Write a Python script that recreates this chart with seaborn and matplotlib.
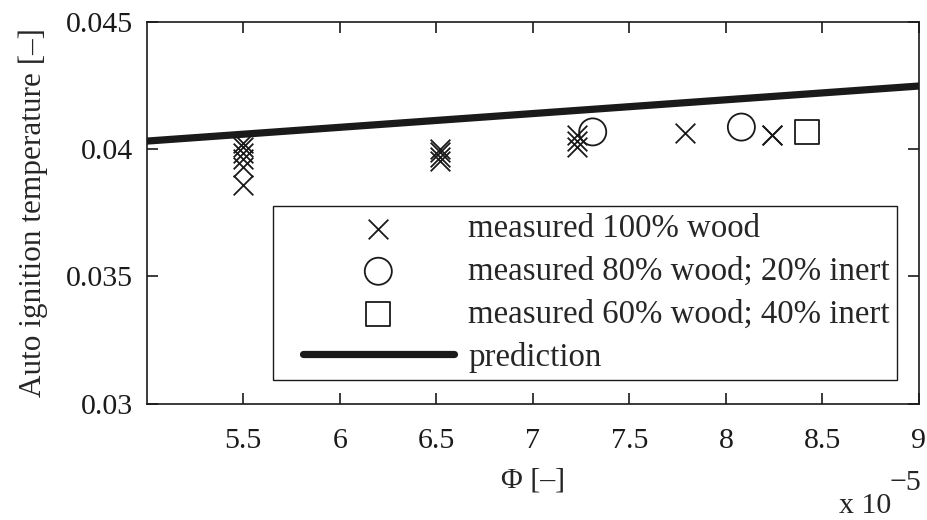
import matplotlib
matplotlib.use("Agg")
import matplotlib.pyplot as plt
import seaborn as sns
import pandas as pd
from matplotlib.collections import PathCollection
from matplotlib.lines import Line2D
from matplotlib.legend_handler import HandlerPathCollection, HandlerLine2D

# Measured auto ignition temperatures (x in units of 1e-5)
wood100_phi = [5.50, 5.50, 5.50, 5.50, 5.50, 5.50,
               6.52, 6.52, 6.52, 6.52,
               7.23, 7.23, 7.23,
               7.79, 8.24, 8.24]
wood100_T = [0.04025, 0.04008, 0.03985, 0.03960, 0.03930, 0.03860,
             0.04000, 0.03988, 0.03970, 0.03952,
             0.04055, 0.04032, 0.04008,
             0.04063, 0.04055, 0.04055]

wood80_phi = [7.31, 8.08]
wood80_T = [0.04067, 0.04086]

wood60_phi = [8.42]
wood60_T = [0.04068]

# Model prediction
pred_phi = [5.0, 9.0]
pred_T = [0.04031, 0.04247]

x_ticks = [5.5, 6, 6.5, 7, 7.5, 8, 8.5, 9]
x_ticklabels = ["5.5", "6", "6.5", "7", "7.5", "8", "8.5", "9"]
y_ticks = [0.03, 0.035, 0.04, 0.045]
y_ticklabels = ["0.03", "0.035", "0.04", "0.045"]

sns.set_theme(style="ticks")
plt.rcParams["font.family"] = ["Liberation Serif", "DejaVu Serif"]

W, H = 928, 520
fig = plt.figure(figsize=(W / 100, H / 100), dpi=100)
ax = fig.add_axes([146.7 / W, 1 - 404 / H, (919 - 146.7) / W, (404 - 21.5) / H])

fs = 21.5
fs_leg = 23.7

d100 = pd.DataFrame({"phi": wood100_phi, "T": wood100_T})
d80 = pd.DataFrame({"phi": wood80_phi, "T": wood80_T})
d60 = pd.DataFrame({"phi": wood60_phi, "T": wood60_T})
dpred = pd.DataFrame({"phi": pred_phi, "T": pred_T})

sns.scatterplot(data=d100, x="phi", y="T", marker="x", s=200, color="k",
                linewidth=1.3, ax=ax, label="measured 100% wood", zorder=3)
sns.scatterplot(data=d80, x="phi", y="T", marker="o", s=380, facecolor="none",
                edgecolor="k", linewidth=1.3, ax=ax,
                label="measured 80% wood; 20% inert", zorder=3)
sns.scatterplot(data=d60, x="phi", y="T", marker="s", s=300, facecolor="none",
                edgecolor="k", linewidth=1.3, ax=ax,
                label="measured 60% wood; 40% inert", zorder=3)
sns.lineplot(data=dpred, x="phi", y="T", color="k", linewidth=5.2, ax=ax,
             label="prediction", zorder=4)

ax.set_xlim(5.0, 9.0)
ax.set_ylim(0.03, 0.045)
ax.set_xticks(x_ticks)
ax.set_xticklabels(x_ticklabels)
ax.set_yticks(y_ticks)
ax.set_yticklabels(y_ticklabels)

for side in ["top", "right", "left", "bottom"]:
    ax.spines[side].set_visible(True)
    ax.spines[side].set_linewidth(1.2)
    ax.spines[side].set_color("k")

ax.tick_params(axis="both", which="both", direction="in", length=8, width=1.2,
               top=True, right=True, labelsize=fs, colors="k")
ax.tick_params(axis="x", pad=17)
ax.tick_params(axis="y", pad=10)

ax.set_xlabel("Φ [–]", fontsize=fs, labelpad=10)
ax.set_ylabel("Auto ignition temperature [–]", fontsize=22.5, labelpad=13)

# legend handles get extra room on their left side only
hpad = 0.67
leg = ax.legend(loc="lower right", bbox_to_anchor=((897 - 146.7) / (919 - 146.7),
                                                   (404 - 380) / (404 - 21.5)),
                borderaxespad=0, fontsize=fs_leg, frameon=True, fancybox=False,
                edgecolor="k", framealpha=1, handlelength=5.26,
                handletextpad=0.43, borderpad=0.22, labelspacing=0.37,
                scatterpoints=1,
                handler_map={PathCollection: HandlerPathCollection(xpad=hpad),
                             Line2D: HandlerLine2D(xpad=hpad)})
leg.get_frame().set_linewidth(1.0)

fig.text(865 / W, 1 - 513 / H, "x 10", fontsize=fs, ha="center", va="baseline")
fig.text(905 / W, 1 - 490 / H, "−5", fontsize=fs, ha="center", va="baseline")

fig.savefig("out.png", dpi=100, facecolor="white")
